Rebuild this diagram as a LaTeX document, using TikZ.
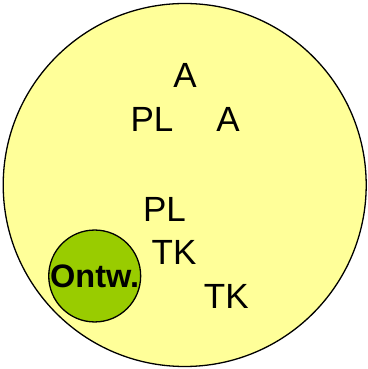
\documentclass[tikz,border=0pt]{standalone}
\usepackage{fontspec}
\setmainfont{Liberation Sans}
\usepackage{tikz}
\definecolor{paleyellow}{HTML}{FFFF99}
\definecolor{limegreen}{HTML}{99CC00}
\tikzset{%
	world/.style    = {draw, line width=1.3pt, circle, fill=paleyellow,
		minimum size = 363pt, inner sep=0pt},
	dev/.style      = {draw, line width=1.3pt, circle, fill=limegreen,
		minimum size = 91pt, inner sep=0pt, font=\fontsize{32.5}{36}\selectfont\bfseries}, % Ontw.
	lbl/.style      = {inner sep=0pt, font=\fontsize{35}{40}\selectfont} % Labels
}
\begin{document}
\begin{tikzpicture}[x=1pt,y=1pt]
			\useasboundingbox (0,0) rectangle (367,369);
			\node[world] (outer) at (184.7,184) {};
			\node[dev] (ontw) at (94.7,93) {Ontw.};

			\node[lbl] (a1) at (185,294) {A};
			\node[lbl] (pl1) at (152,250) {PL};
			\node[lbl] (a2) at (228,250) {A};
			\node[lbl] (pl2) at (164.5,160) {PL};
			\node[lbl] (tk1) at (174,116.5) {TK};
			\node[lbl] (tk2) at (226.3,72.3) {TK};
		\end{tikzpicture}
\end{document}
